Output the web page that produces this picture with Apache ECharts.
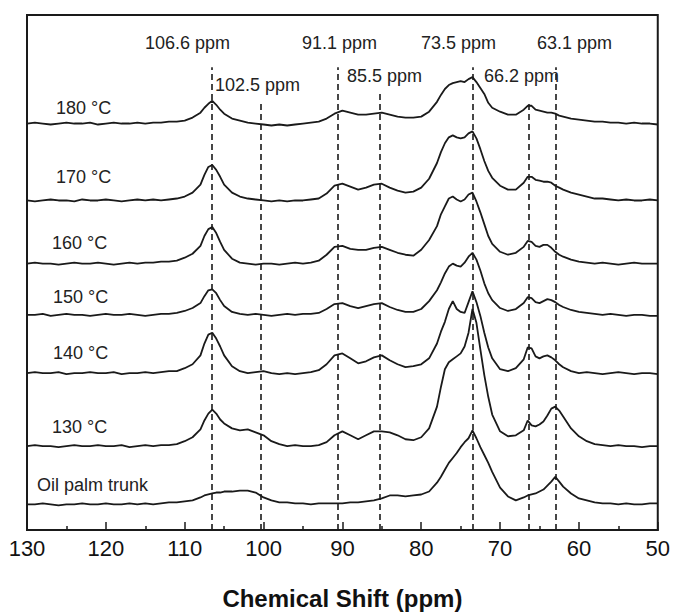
<!DOCTYPE html>
<html>
<head>
<meta charset="utf-8">
<script src="https://cdn.jsdelivr.net/npm/echarts@6/dist/echarts.min.js"></script>
<style>
  html, body { margin: 0; padding: 0; background: #fff; }
  #chart { width: 673px; height: 615px; }
</style>
</head>
<body>
<div id="chart"></div>
<script>
// chemical shift grid (ppm), finer around the peaks
const ppm = [130,129,128,127,126,125,124,123,122,121,120,119,118,117,116,115,114,113,112,111,110,109,108,
  107.5,107,106.5,106,105.5,105,
  104,103,102,101,100,99,98,97,96,95,94,93,92,91,90,89,88,87,86,85,84,83,82,81,80,79,78,
  77.5,77,76.5,76,75.5,75,74.5,74,73.5,73,72.5,72,71.5,71,
  70,69,68,67,
  66.5,66,65.5,65,64.5,64,63.5,63,62.5,62,
  61,60,59,58,57,56,55,54,53,52,51,50]

// intensities (arbitrary units above each trace's baseline)
const s180 = [0,1,0,-1,0,1,0,0,1,-1, 0,1,0,0,1,0,1,1,2,2, 3,6,11,
  16,20,23,19,14,10,
  5,3,1,0,-1,-2,-1,-2,-1,0,1,2,5,10,13,11,9,9,10,11,9,7,6,6,7,12,22,
  29,35,39,41,42,43,42,45,47,42,36,30,21,16,
  12,9,9,14,
  18,18,14,13,12,11,11,10,8,7,
  5,4,3,2,2,1,1,0,1,0,0,-1]
const s170 = [0,-1,0,1,0,0,-1,1,0,0, 1,0,-1,0,1,0,1,0,1,2, 4,8,16,
  26,34,36,31,24,16,
  8,4,2,1,0,-1,0,-1,0,0,1,2,7,15,17,14,11,13,16,17,13,10,8,9,13,22,38,
  49,58,64,66,64,63,64,68,70,63,52,40,30,23,
  15,11,11,18,
  24,24,21,20,19,19,18,15,13,11,
  8,6,4,2,2,1,0,1,0,0,1,0]
const s160 = [0,1,0,0,-1,0,1,0,0,1, 0,-1,0,1,0,1,1,2,2,3, 6,10,18,
  28,35,37,31,22,14,
  5,1,0,-1,0,0,-1,0,1,0,1,3,9,17,18,15,14,14,16,17,14,11,9,8,14,24,38,
  50,58,66,68,65,63,65,70,72,63,52,40,28,20,
  12,9,11,17,
  23,22,18,17,19,19,16,12,9,7,
  4,2,1,0,1,0,-1,0,1,0,0,0]
const s150 = [0,0,1,-1,0,1,0,0,-1,0, 1,0,0,1,0,-1,0,1,1,2, 4,7,12,
  19,25,26,22,15,9,
  3,1,0,1,0,-1,0,1,0,1,1,2,6,11,12,9,7,9,11,12,8,5,3,3,6,14,25,
  33,42,49,52,50,49,53,59,63,56,45,32,22,15,
  7,4,6,12,
  18,17,13,12,14,16,15,13,10,8,
  5,3,2,1,0,1,0,-1,0,0,-1,-1]
const s140 = [0,1,0,0,1,-1,0,0,1,0, 0,1,-1,0,0,1,0,1,2,2, 5,9,18,
  30,39,41,35,27,18,
  7,2,0,1,2,0,-1,0,-1,0,1,3,9,18,20,15,10,12,16,18,13,9,6,7,9,15,30,
  42,52,65,73,65,62,61,72,83,72,58,41,26,15,
  4,2,5,14,
  26,25,17,15,17,18,16,13,9,6,
  2,0,1,0,-1,0,1,0,-1,0,0,-1]
const s130 = [0,1,0,0,-1,0,1,0,0,1, 0,0,1,-1,0,1,0,1,1,2, 5,9,17,
  26,33,37,33,27,23,
  18,16,17,14,11,5,2,0,1,0,0,1,4,11,15,11,7,11,15,15,14,11,7,6,9,18,40,
  60,78,85,88,91,94,101,115,139,125,98,72,50,32,
  15,10,11,16,
  26,21,20,22,25,31,38,40,36,30,
  18,10,5,2,1,0,1,0,0,-1,0,0]
const sOil = [0,0,1,0,-1,0,0,1,0,0, 1,0,0,1,0,1,0,1,2,2, 3,4,7,
  9,10,11,12,12,13,
  13,14,14,12,7,4,2,2,1,1,0,1,1,1,1,2,2,3,4,6,9,9,8,9,10,13,22,
  28,35,42,47,52,58,63,67,75,67,58,50,42,33,
  17,8,4,7,
  9,10,11,13,15,19,23,28,23,18,
  11,6,4,2,1,1,0,1,0,0,1,1]

const spectra   = [s180, s170, s160, s150, s140, s130, sOil]
const names     = ['180 °C', '170 °C', '160 °C', '150 °C', '140 °C', '130 °C', 'Oil palm trunk']
const baselines = [412, 334, 270, 218, 159, 85, 26]   // stacking offset of each trace

// dashed guide lines (where they are drawn) and their labels
const guidePpm    = [106.6, 100.4, 90.6, 85.2, 73.5, 66.3, 62.9]
const guideTop    = [469, 435, 469, 445, 469, 432, 469]
const guideLabels = ['106.6 ppm', '102.5 ppm', '91.1 ppm', '85.5 ppm', '73.5 ppm', '66.2 ppm', '63.1 ppm']

const chart = echarts.init(document.getElementById('chart'), null, {renderer: 'svg'})

const labelFont = '18px "Liberation Sans", Arial, sans-serif'
const textColor = '#222'

// label placement (pixels)
const guideLabelPos = [[145, 43], [215, 85], [302, 43], [347, 76], [421, 43], [484, 76], [537, 43]]
const nameLabelPos  = [[56, 108], [56, 177], [52, 243], [53, 297], [53, 353], [52, 427], [37, 485]]

let graphics = []
guideLabels.map((t, i) => {
    graphics.push({
        type: 'text', x: guideLabelPos[i][0], y: guideLabelPos[i][1], silent: true,
        style: {text: t, font: labelFont, fill: textColor, textAlign: 'left', textVerticalAlign: 'middle', verticalAlign: 'middle'}
    })
})
names.map((t, i) => {
    graphics.push({
        type: 'text', x: nameLabelPos[i][0], y: nameLabelPos[i][1], silent: true,
        style: {text: t, font: labelFont, fill: textColor, textAlign: 'left', textVerticalAlign: 'middle', verticalAlign: 'middle'}
    })
})

let series = spectra.map((vals, k) => {
    return {
        name: names[k],
        type: 'line',
        symbol: 'none',
        silent: true,
        lineStyle: {color: '#1a1a1a', width: 1.8},
        data: ppm.map((p, i) => [p, baselines[k] + vals[i]])
    }
})

// dashed lines
series.push({
    type: 'line',
    data: [],
    silent: true,
    markLine: {
        symbol: 'none',
        silent: true,
        label: {show: false},
        lineStyle: {type: [6, 4], color: '#1a1a1a', width: 1.6},
        data: guidePpm.map((p, i) => [{coord: [p, 0]}, {coord: [p, guideTop[i]]}])
    }
})

let option = {
    animation: false,
    backgroundColor: '#fff',
    grid: {left: 27, right: 14, top: 15, bottom: 78, show: true, borderColor: '#1a1a1a', borderWidth: 2},
    xAxis: {
        type: 'value',
        inverse: true,
        min: 50,
        max: 130,
        interval: 10,
        name: 'Chemical Shift (ppm)',
        nameLocation: 'middle',
        nameGap: 56,
        nameTextStyle: {fontSize: 24, fontWeight: 'bold', color: '#111', fontFamily: '"Liberation Sans", Arial, sans-serif'},
        axisLine: {show: true, lineStyle: {color: '#1a1a1a', width: 2}},
        axisTick: {show: true, inside: true, length: 8, lineStyle: {color: '#1a1a1a', width: 1.5}},
        minorTick: {show: true, splitNumber: 2, length: 4, lineStyle: {color: '#1a1a1a', width: 1.5}},
        axisLabel: {fontSize: 22, color: '#111', margin: 7, fontFamily: '"Liberation Sans", Arial, sans-serif'},
        splitLine: {show: false}
    },
    yAxis: {
        type: 'value',
        min: 0,
        max: 522,
        show: false
    },
    graphic: graphics,
    series: series
}

chart.setOption(option)
</script>
</body>
</html>
